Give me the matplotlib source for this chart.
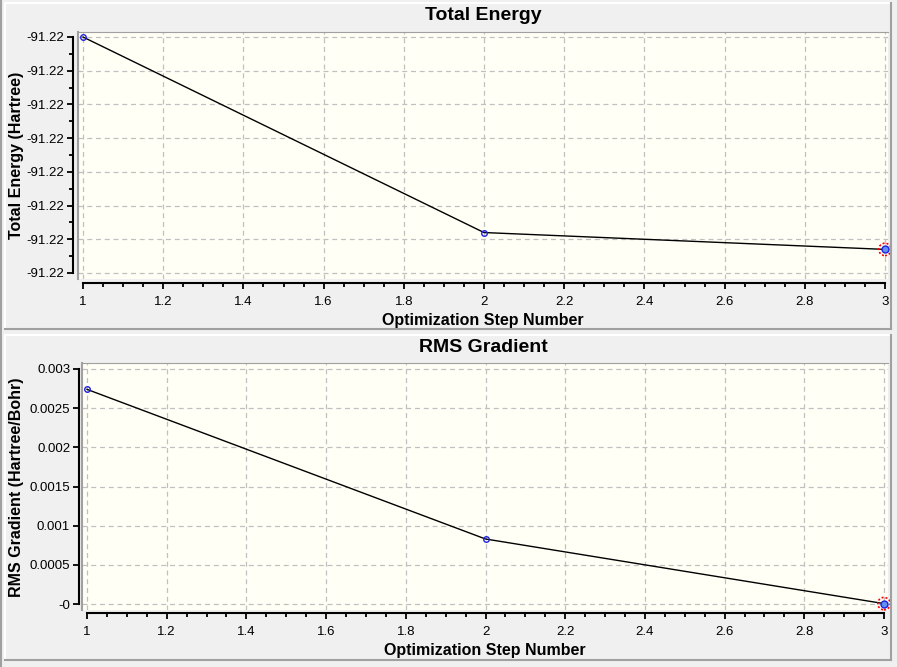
import numpy as np
import matplotlib
matplotlib.use('Agg')
import matplotlib.pyplot as plt
from matplotlib.lines import Line2D
from matplotlib.ticker import MultipleLocator, FuncFormatter

plt.rcParams['font.family'] = ['Liberation Sans', 'DejaVu Sans']

# data
steps = [1, 2, 3]
energy = [-91.219400, -91.219458, -91.219463]   # Hartree
rms_grad = [0.00274, 0.00083, 0.000005]          # Hartree/Bohr

energy_ticks = [-91.21947 + 0.00001 * i for i in range(8)]
grad_ticks = [0.0, 0.0005, 0.001, 0.0015, 0.002, 0.0025, 0.003]

W, H = 897, 667
fig = plt.figure(figsize=(W / 100, H / 100), dpi=100)
fig.patch.set_facecolor('#F0F0F0')

bg = '#FFFFF5'
grid_col = '#C0C0C0'
frame_col = '#A0A0A0'
PT = 0.72  # points per pixel at 100 dpi


def fx(px):
	return px / W


def fy(py):
	return 1 - py / H


def panel_frame(top, bottom):
	# white highlight on top/left, gray shadow on right/bottom
	fig.add_artist(Line2D([fx(5), fx(891)], [fy(top), fy(top)], color='white', lw=1.5))
	fig.add_artist(Line2D([fx(5), fx(5)], [fy(top), fy(bottom)], color='white', lw=1.5))
	fig.add_artist(Line2D([fx(891), fx(891)], [fy(top), fy(bottom)], color=frame_col, lw=1.5))
	fig.add_artist(Line2D([fx(5), fx(891)], [fy(bottom), fy(bottom)], color=frame_col, lw=1.5))


fig.add_artist(Line2D([fx(1), fx(1)], [0, 1], color=frame_col, lw=1.5))
panel_frame(3, 329)
panel_frame(335, 660)


def setup_axes(rect, xpad, ypad_out):
	ax = fig.add_axes(rect)
	ax.set_facecolor(bg)
	ax.grid(True, which='major', color=grid_col, linestyle=(0, (4, 3)), linewidth=0.9)
	ax.spines['top'].set_color(frame_col)
	ax.spines['right'].set_visible(False)
	ax.spines['left'].set_position(('outward', ypad_out * PT))
	ax.spines['bottom'].set_position(('outward', xpad * PT))
	for s in ['left', 'bottom']:
		ax.spines[s].set_linewidth(1.5)
	ax.add_line(Line2D([0, 0], [0, 1], transform=ax.transAxes, color=frame_col, lw=1.5, clip_on=False))
	ax.xaxis.set_major_locator(MultipleLocator(0.2))
	ax.xaxis.set_minor_locator(MultipleLocator(0.05))
	ax.xaxis.set_major_formatter(FuncFormatter(lambda v, p: f'{v:g}'))
	ax.spines['bottom'].set_bounds(1, 3)
	ax.tick_params(axis='both', which='major', length=6 * PT, width=1.3, labelsize=9.5, pad=2)
	ax.tick_params(axis='x', which='major', pad=5)
	ax.tick_params(axis='both', which='minor', length=4 * PT, width=1.3)
	ax.set_xlabel('Optimization Step Number', fontsize=11.5, fontweight='bold', labelpad=4)
	return ax


def draw_series(ax, y):
	ax.plot(steps, y, color='black', lw=1, zorder=3, clip_on=False)
	ax.plot(steps[:-1], y[:-1], 'o', ms=4, mfc='none', mec='#2020E0', mew=1, zorder=4, clip_on=False)
	ax.plot(steps[-1], y[-1], 'o', ms=5, mfc='#6090F0', mec='#2020E0', mew=1, zorder=4, clip_on=False)
	ax.scatter([steps[-1]], [y[-1]], s=80, facecolors='none', edgecolors='red', linewidths=1.2,
			linestyles=(0, (1.2, 1.2)), zorder=5, clip_on=False)


# Total Energy panel
ax1 = setup_axes([fx(78), fy(279), fx(888 - 78), (279 - 32) / H], 4, 5)
draw_series(ax1, energy)
ax1.set_xlim(1 - 5 / 401, 3 + 3 / 401)
step = 0.00001
ax1.set_yticks(energy_ticks)
ax1.yaxis.set_minor_locator(MultipleLocator(step / 2))
ax1.set_ylim(energy_ticks[0] - 0.178 * step, energy_ticks[-1] + 0.148 * step)
ax1.spines['left'].set_bounds(energy_ticks[0], energy_ticks[-1])
ax1.yaxis.set_major_formatter(FuncFormatter(lambda v, p: f'{v:.2f}'))
ax1.set_ylabel('Total Energy (Hartree)', fontsize=11.5, fontweight='bold')
ax1.yaxis.set_label_coords(fx(24), fy(155), transform=fig.transFigure)
fig.text(fx(483), fy(16), 'Total Energy', ha='center', va='center', fontsize=14, fontweight='bold')

# RMS Gradient panel
ax2 = setup_axes([fx(82), fy(610), fx(888 - 82), (610 - 363) / H], 3, 3)
draw_series(ax2, rms_grad)
ax2.set_xlim(1 - 5 / 398.5, 3 + 4 / 398.5)
ax2.set_yticks(grad_ticks)
ax2.set_ylim(-0.0000765, 0.003 + 0.0000765)
ax2.spines['left'].set_bounds(0, 0.003)
ax2.yaxis.set_major_formatter(FuncFormatter(lambda v, p: '-0' if abs(v) < 1e-12 else f'{v:g}'))
ax2.set_ylabel('RMS Gradient (Hartree/Bohr)', fontsize=11.5, fontweight='bold')
ax2.yaxis.set_label_coords(fx(24), fy(487), transform=fig.transFigure)
fig.text(fx(483), fy(347), 'RMS Gradient', ha='center', va='center', fontsize=14, fontweight='bold')

fig.savefig('out.png', dpi=100, facecolor=fig.get_facecolor())
